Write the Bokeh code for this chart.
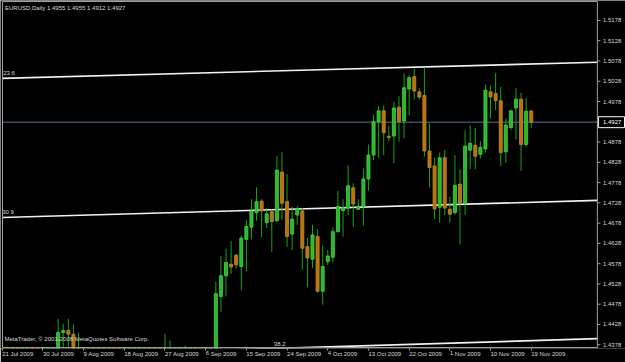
from bokeh.plotting import figure
from bokeh.models import Range1d, FixedTicker, ColumnDataSource
from bokeh.embed import file_html
from bokeh.resources import INLINE
from bokeh.core.properties import value

symbol = "EURUSD"
timeframe = "Daily"

dates = [
    "2009-07-21", "2009-07-22", "2009-07-23", "2009-07-24", "2009-07-26", "2009-07-27", "2009-07-28", "2009-07-29", "2009-07-30", "2009-07-31",
    "2009-08-02", "2009-08-03", "2009-08-04", "2009-08-05", "2009-08-06", "2009-08-07", "2009-08-09", "2009-08-10", "2009-08-11", "2009-08-12",
    "2009-08-13", "2009-08-14", "2009-08-16", "2009-08-17", "2009-08-18", "2009-08-19", "2009-08-20", "2009-08-21", "2009-08-23", "2009-08-24",
    "2009-08-25", "2009-08-26", "2009-08-27", "2009-08-28", "2009-08-30", "2009-08-31", "2009-09-01", "2009-09-02", "2009-09-03", "2009-09-04",
    "2009-09-06", "2009-09-07", "2009-09-08", "2009-09-09", "2009-09-10", "2009-09-11", "2009-09-13", "2009-09-14", "2009-09-15", "2009-09-16",
    "2009-09-17", "2009-09-18", "2009-09-20", "2009-09-21", "2009-09-22", "2009-09-23", "2009-09-24", "2009-09-25", "2009-09-27", "2009-09-28",
    "2009-09-29", "2009-09-30", "2009-10-01", "2009-10-02", "2009-10-04", "2009-10-05", "2009-10-06", "2009-10-07", "2009-10-08", "2009-10-09",
    "2009-10-11", "2009-10-12", "2009-10-13", "2009-10-14", "2009-10-15", "2009-10-16", "2009-10-18", "2009-10-19", "2009-10-20", "2009-10-21",
    "2009-10-22", "2009-10-23", "2009-10-25", "2009-10-26", "2009-10-27", "2009-10-28", "2009-10-29", "2009-10-30", "2009-11-01", "2009-11-02",
    "2009-11-03", "2009-11-04", "2009-11-05", "2009-11-06", "2009-11-08", "2009-11-09", "2009-11-10", "2009-11-11", "2009-11-12", "2009-11-13",
    "2009-11-15", "2009-11-16", "2009-11-17", "2009-11-18", "2009-11-19",
]

opens = [
    1.4160, 1.4220, 1.4175, 1.4215, 1.4200, 1.4210, 1.4225, 1.4190, 1.4080, 1.4135,
    1.4250, 1.4255, 1.4408, 1.4413, 1.4404, 1.4355, 1.4185, 1.4190, 1.4135, 1.4150,
    1.4200, 1.4275, 1.4185, 1.4175, 1.4075, 1.4120, 1.4220, 1.4240, 1.4320, 1.4315,
    1.4290, 1.4300, 1.4225, 1.4300, 1.4315, 1.4320, 1.4335, 1.4240, 1.4270, 1.4310,
    1.4330, 1.4325, 1.4340, 1.4497, 1.4548, 1.4577, 1.4599, 1.4571, 1.4638, 1.4668,
    1.4704, 1.4732, 1.4679, 1.4706, 1.4684, 1.4804, 1.4731, 1.4651, 1.4698, 1.4708,
    1.4620, 1.4589, 1.4645, 1.4510, 1.4583, 1.4594, 1.4657, 1.4709, 1.4715, 1.4765,
    1.4712, 1.4719, 1.4787, 1.4846, 1.4928, 1.4955, 1.4892, 1.4893, 1.4964, 1.4930,
    1.5009, 1.5040, 1.5002, 1.4993, 1.4856, 1.4819, 1.4717, 1.4840, 1.4712, 1.4704,
    1.4774, 1.4727, 1.4858, 1.4870, 1.4848, 1.4861, 1.5002, 1.4998, 1.4980, 1.4854,
    1.4914, 1.4962, 1.4984, 1.4872, 1.4955,
]
highs = [
    1.4230, 1.4225, 1.4240, 1.4225, 1.4215, 1.4275, 1.4280, 1.4200, 1.4150, 1.4270,
    1.4265, 1.4442, 1.4430, 1.4442, 1.4428, 1.4408, 1.4200, 1.4200, 1.4180, 1.4240,
    1.4295, 1.4290, 1.4190, 1.4180, 1.4140, 1.4255, 1.4295, 1.4340, 1.4330, 1.4345,
    1.4345, 1.4320, 1.4405, 1.4388, 1.4330, 1.4345, 1.4376, 1.4290, 1.4335, 1.4345,
    1.4340, 1.4350, 1.4533, 1.4597, 1.4615, 1.4634, 1.4602, 1.4647, 1.4686, 1.4737,
    1.4766, 1.4737, 1.4716, 1.4711, 1.4843, 1.4853, 1.4799, 1.4719, 1.4720, 1.4715,
    1.4642, 1.4674, 1.4663, 1.4622, 1.4612, 1.4668, 1.4757, 1.4737, 1.4821, 1.4776,
    1.4737, 1.4813, 1.4872, 1.4946, 1.4967, 1.4969, 1.4917, 1.4977, 1.4991, 1.5048,
    1.5043, 1.5059, 1.5011, 1.5062, 1.4924, 1.4840, 1.4852, 1.4858, 1.4743, 1.4846,
    1.4811, 1.4907, 1.4919, 1.4912, 1.4880, 1.5020, 1.5018, 1.5048, 1.5014, 1.4936,
    1.4958, 1.5011, 1.4999, 1.4987, 1.4955,
]
lows = [
    1.4140, 1.4120, 1.4135, 1.4120, 1.4190, 1.4190, 1.4150, 1.4060, 1.4050, 1.4080,
    1.4240, 1.4245, 1.4360, 1.4350, 1.4320, 1.4180, 1.4170, 1.4115, 1.4080, 1.4120,
    1.4190, 1.4160, 1.4170, 1.4050, 1.4060, 1.4110, 1.4200, 1.4220, 1.4310, 1.4260,
    1.4250, 1.4200, 1.4200, 1.4270, 1.4300, 1.4270, 1.4220, 1.4200, 1.4240, 1.4260,
    1.4320, 1.4300, 1.4320, 1.4459, 1.4497, 1.4553, 1.4566, 1.4512, 1.4559, 1.4638,
    1.4684, 1.4643, 1.4666, 1.4607, 1.4681, 1.4686, 1.4619, 1.4611, 1.4674, 1.4563,
    1.4520, 1.4567, 1.4507, 1.4477, 1.4575, 1.4582, 1.4654, 1.4645, 1.4698, 1.4669,
    1.4711, 1.4672, 1.4758, 1.4834, 1.4839, 1.4846, 1.4880, 1.4826, 1.4879, 1.4887,
    1.4944, 1.4983, 1.4983, 1.4842, 1.4766, 1.4688, 1.4679, 1.4698, 1.4679, 1.4698,
    1.4625, 1.4698, 1.4811, 1.4811, 1.4838, 1.4852, 1.4936, 1.4957, 1.4819, 1.4827,
    1.4907, 1.4885, 1.4807, 1.4866, 1.4912,
]
closes = [
    1.4220, 1.4175, 1.4215, 1.4200, 1.4210, 1.4225, 1.4190, 1.4080, 1.4135, 1.4250,
    1.4255, 1.4408, 1.4413, 1.4404, 1.4355, 1.4185, 1.4190, 1.4135, 1.4150, 1.4200,
    1.4275, 1.4185, 1.4175, 1.4075, 1.4120, 1.4220, 1.4240, 1.4320, 1.4315, 1.4290,
    1.4300, 1.4225, 1.4300, 1.4315, 1.4320, 1.4335, 1.4240, 1.4270, 1.4310, 1.4330,
    1.4325, 1.4340, 1.4504, 1.4548, 1.4581, 1.4570, 1.4575, 1.4641, 1.4670, 1.4708,
    1.4731, 1.4708, 1.4701, 1.4682, 1.4809, 1.4727, 1.4645, 1.4688, 1.4714, 1.4616,
    1.4592, 1.4649, 1.4510, 1.4571, 1.4597, 1.4657, 1.4719, 1.4716, 1.4770, 1.4725,
    1.4719, 1.4787, 1.4846, 1.4928, 1.4955, 1.4901, 1.4889, 1.4962, 1.4928, 1.5012,
    1.5037, 1.5004, 1.4989, 1.4856, 1.4815, 1.4713, 1.4839, 1.4715, 1.4700, 1.4771,
    1.4727, 1.4868, 1.4875, 1.4843, 1.4865, 1.5006, 1.4989, 1.4980, 1.4852, 1.4920,
    1.4955, 1.4984, 1.4872, 1.4954, 1.4927,
]

price_ticks = [1.5178, 1.5128, 1.5078, 1.5028, 1.4978, 1.4878, 1.4828, 1.4778,
               1.4728, 1.4678, 1.4628, 1.4578, 1.4528, 1.4478, 1.4428, 1.4378]
date_ticks = ["2009-07-21", "2009-07-30", "2009-08-09", "2009-08-18", "2009-08-27",
              "2009-09-06", "2009-09-15", "2009-09-24", "2009-10-04", "2009-10-13",
              "2009-10-22", "2009-11-01", "2009-11-10", "2009-11-19"]
date_tick_labels = ["21 Jul 2009", "30 Jul 2009", "9 Aug 2009", "18 Aug 2009", "27 Aug 2009",
                    "6 Sep 2009", "15 Sep 2009", "24 Sep 2009", "4 Oct 2009", "13 Oct 2009",
                    "22 Oct 2009", "1 Nov 2009", "10 Nov 2009", "19 Nov 2009"]

# Fibonacci channel levels: price at bar 0 and at the right edge of the chart (bar 117)
fib_levels = ["23.6", "30.9", "38.2"]
fib_price_start = [1.5035, 1.4692, 1.4348]
fib_price_end = [1.5075, 1.4734, 1.4393]
fib_label_bar = [0.2, 0.0, 53.4]

copyright_text = "MetaTrader, \u00a9 2001-2008 MetaQuotes Software Corp."

# ---- chart geometry (bar units horizontally, price vertically) ----
VIEW_LEFT, VIEW_RIGHT = -0.334, 122.53          # whole window width
CHART_LEFT, CHART_RIGHT = 0.06, 117.0            # candle area (price scale to the right)
PRICE_TOP, PRICE_BOTTOM = 1.52247, 1.43711       # candle area top / bottom
VIEW_TOP, VIEW_BOTTOM = 1.52272, 1.43687

FONT = "Liberation Sans"
TXT = "#d8d8d8"
FRAME = "#a0a0a0"

n = len(dates)
idx = list(range(n))
up = [c >= o for o, c in zip(opens, closes)]
src = ColumnDataSource(dict(
    x=idx, l=lows, h=highs,
    top=[max(o, c) for o, c in zip(opens, closes)],
    bot=[min(o, c) for o, c in zip(opens, closes)],
    fill=["#2cb52c" if u else "#b87212" for u in up],
    edge=["#45d845" if u else "#c98a1e" for u in up],
))

p = figure(width=625, height=362, output_backend="svg", toolbar_location=None,
           x_range=Range1d(VIEW_LEFT, VIEW_RIGHT), y_range=Range1d(VIEW_BOTTOM, VIEW_TOP),
           y_axis_location=None, min_border_left=0, min_border_top=0,
           min_border_right=0, min_border_bottom=13)
p.background_fill_color = "black"
p.border_fill_color = "black"
p.outline_line_color = None
p.grid.visible = False

# time axis (labels start at their bar, as in the terminal)
tick_pos = [dates.index(d) for d in date_ticks]
xa = p.xaxis[0]
xa.ticker = FixedTicker(ticks=tick_pos)
xa.major_label_overrides = {t: lab for t, lab in zip(tick_pos, date_tick_labels)}
xa.axis_line_color = None
xa.major_tick_line_color = FRAME
xa.major_tick_out = 2
xa.major_tick_in = 0
xa.minor_tick_line_color = None
xa.major_label_standoff = 3
xa.major_label_orientation = -0.0001
xa.major_label_text_color = TXT
xa.major_label_text_font = FONT
xa.major_label_text_font_size = "6px"

# fibonacci channel
fib_src = ColumnDataSource(dict(
    x0=[0] * 3, x1=[CHART_RIGHT] * 3, y0=fib_price_start, y1=fib_price_end,
))
p.segment("x0", "y0", "x1", "y1", source=fib_src, line_color="#f2f2f2", line_width=1.6)
lab_y = [ps + (pe - ps) * b / CHART_RIGHT
         for ps, pe, b in zip(fib_price_start, fib_price_end, fib_label_bar)]
p.text(x=fib_label_bar, y=lab_y, text=fib_levels, text_font=value(FONT),
       text_font_size="6px", text_color=TXT, text_baseline="bottom",
       text_align="left", y_offset=-3)

# bid line
p.segment(x0=[CHART_LEFT], y0=[closes[-1]], x1=[CHART_RIGHT], y1=[closes[-1]],
          line_color="#4f7595", line_width=1)

# candles
p.segment("x", "l", "x", "h", source=src, line_color="#14a814", line_width=1)
p.vbar(x="x", top="top", bottom="bot", width=0.6, source=src,
       fill_color="fill", line_color="edge", line_width=0.8)

# chart frame: left / top borders, bottom line, price-scale line
p.segment(x0=[CHART_LEFT, CHART_LEFT, CHART_LEFT, CHART_RIGHT],
          y0=[PRICE_BOTTOM, PRICE_TOP, PRICE_BOTTOM, PRICE_TOP],
          x1=[CHART_LEFT, CHART_RIGHT, CHART_RIGHT, CHART_RIGHT],
          y1=[PRICE_TOP, PRICE_TOP, PRICE_BOTTOM, VIEW_BOTTOM],
          line_color=FRAME, line_width=1)

# price scale on the right
tick_len = 0.6
p.segment(x0=[CHART_RIGHT] * len(price_ticks), y0=price_ticks,
          x1=[CHART_RIGHT + tick_len] * len(price_ticks), y1=price_ticks,
          line_color=FRAME, line_width=1)
p.text(x=[CHART_RIGHT + 1.1] * len(price_ticks), y=price_ticks,
       text=[f"{t:.4f}" for t in price_ticks], text_font=value(FONT),
       text_font_size="6px", text_color=TXT, text_baseline="middle", text_align="left")

# bid price box on the scale
half_h = 0.00135
p.quad(left=[CHART_RIGHT + 0.2], right=[VIEW_RIGHT - 0.2],
       top=[closes[-1] + half_h], bottom=[closes[-1] - half_h],
       fill_color="black", line_color="white", line_width=1)
p.text(x=[CHART_RIGHT + 1.1], y=[closes[-1]], text=[f"{closes[-1]:.4f}"],
       text_font=value(FONT), text_font_size="6px", text_color="white",
       text_baseline="middle", text_align="left")

# header and copyright
header = f"{symbol},{timeframe}  {opens[-1]:.4f} {highs[-1]:.4f} {lows[-1]:.4f} {closes[-1]:.4f}"
p.text(x=[0.55], y=[PRICE_TOP], text=[header], text_font=value(FONT),
       text_font_size="6px", text_color=TXT, text_baseline="top", text_align="left", y_offset=3)
p.text(x=[0.45], y=[PRICE_BOTTOM], text=[copyright_text], text_font=value(FONT),
       text_font_size="6px", text_color=TXT, text_baseline="bottom", text_align="left", y_offset=-6)

open("out.html", "w").write(file_html(p, INLINE))
